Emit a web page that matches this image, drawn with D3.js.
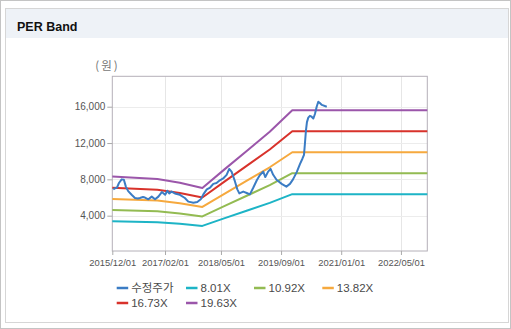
<!DOCTYPE html>
<html>
<head>
<meta charset="utf-8">
<script src="https://cdn.jsdelivr.net/npm/d3@7"></script>
<style>
html,body{margin:0;padding:0;background:#fff;}
svg{display:block;}
</style>
</head>
<body>
<svg id="chart" width="511" height="329"></svg>
<script>
// ---- data ----
const xTickLabels = ["2015/12/01","2017/02/01","2018/05/01","2019/09/01","2021/01/01","2022/05/01"];
const yTickValues = [4000, 8000, 12000, 16000];
const xDomain = ["2015/12/01","2022/12/01"];

const seriesNames = ["수정주가","8.01X","10.92X","13.82X","16.73X","19.63X"];
const seriesColors = ["#3b7cc4","#1db4c6","#93bb52","#f6a93e","#d8322b","#9b56aa"];

const bandDates = ["2015/12/01","2016/12/01","2017/06/01","2017/12/01","2018/06/01","2018/12/01","2019/06/01","2019/12/01","2022/12/01"];
const band801  = [3388, 3284, 3116, 2876, 3725, 4566, 5407, 6368, 6368];
const band1092 = [4619, 4477, 4248, 3920, 5078, 6224, 7371, 8681, 8681];
const band1382 = [5846, 5666, 5376, 4961, 6426, 7877, 9329, 10987, 10987];
const band1673 = [7077, 6859, 6508, 6006, 7779, 9536, 11293, 13300, 13300];
const band1963 = [8303, 8048, 7636, 7047, 9128, 11189, 13250, 15606, 15606];

const priceDates = [
 "2015/12/09","2015/12/22","2016/01/08","2016/01/24","2016/02/15","2016/03/04","2016/03/20","2016/04/08",
 "2016/05/06","2016/06/02","2016/06/26","2016/07/12","2016/08/06","2016/08/22","2016/09/19","2016/10/16",
 "2016/11/12","2016/12/09","2017/01/06","2017/02/02","2017/02/20","2017/03/07","2017/03/26","2017/04/22",
 "2017/06/02","2017/07/12","2017/08/09","2017/09/19","2017/10/21","2017/11/18","2017/12/09","2018/01/06",
 "2018/02/02","2018/02/28","2018/03/26","2018/04/22","2018/05/19","2018/06/16","2018/07/07","2018/07/26",
 "2018/08/22","2018/09/11","2018/09/27","2018/10/29","2018/11/26","2018/12/22","2019/01/19","2019/02/16",
 "2019/03/12","2019/04/09","2019/04/26","2019/05/19","2019/06/08","2019/06/29","2019/07/26","2019/09/06",
 "2019/10/14","2019/11/12","2019/12/07","2020/01/06","2020/02/02","2020/02/22","2020/03/05","2020/03/13",
 "2020/03/21","2020/03/29","2020/04/09","2020/04/22","2020/05/06","2020/05/20","2020/06/02","2020/06/16",
 "2020/06/29","2020/07/12","2020/07/28","2020/09/06"
];
const priceValues = [
 6900, 7000, 7100, 7600, 8000, 7950, 7200, 6700,
 6300, 5950, 5900, 5950, 6050, 6000, 5800, 6100,
 5800, 6100, 6600, 6300, 6750, 6450, 6650, 6450,
 6300, 5950, 5550, 5430, 5500, 5800, 6350, 6900,
 7100, 7500, 7600, 7900, 8100, 8500, 9150, 8850,
 7800, 6900, 6450, 6650, 6500, 6350, 7100, 7900,
 8450, 8850, 8250, 8850, 9150, 8500, 7950, 7500,
 7200, 7500, 8000, 8800, 9700, 10300, 10700, 12000,
 13400, 14300, 14800, 15000, 14900, 14700, 15200, 16000,
 16550, 16400, 16200, 16000
];

// ---- drawing ----
const parse = d3.timeParse("%Y/%m/%d");
const svg = d3.select("#chart");

// frames
svg.append("rect").attr("x",0.5).attr("y",0.5).attr("width",510).attr("height",328)
  .attr("fill","#fff").attr("stroke","#c4c4c4");
svg.append("rect").attr("x",5.5).attr("y",8.5).attr("width",503).attr("height",314)
  .attr("fill","#fff").attr("stroke","#d6d6d6");
svg.append("rect").attr("x",6).attr("y",9).attr("width",502).attr("height",29)
  .attr("fill","#eef2f7");
svg.append("text").attr("x",17).attr("y",30.5).text("PER Band")
  .attr("font-family","Liberation Sans, Arial, sans-serif").attr("font-weight","bold")
  .attr("font-size","12.5px").attr("fill","#111");

const L = 112.3, R = 427.3, T = 76.3, B = 251;
const x = d3.scaleTime().domain(xDomain.map(parse)).range([L, R]);
const y = d3.scaleLinear().domain([0, 19350]).range([252, T]);

const axisFont = "Liberation Sans, Arial, sans-serif";

// gridlines
const g = svg.append("g");
g.selectAll(".vg").data(xTickLabels.slice(1)).enter().append("line")
  .attr("x1", d => Math.round(x(parse(d))) + 0.5).attr("x2", d => Math.round(x(parse(d))) + 0.5)
  .attr("y1", T).attr("y2", B).attr("stroke","#e6e6e6");
g.selectAll(".hg").data(yTickValues).enter().append("line")
  .attr("x1", L).attr("x2", R)
  .attr("y1", d => Math.round(y(d)) + 0.5).attr("y2", d => Math.round(y(d)) + 0.5)
  .attr("stroke","#ececec");

// plot frame
svg.append("rect").attr("x", L).attr("y", T).attr("width", R - L).attr("height", B - T)
  .attr("fill","none").attr("stroke","#b4b0b8").attr("stroke-width",1);

// axes
const xAxis = d3.axisBottom(x).tickValues(xTickLabels.map(parse))
  .tickFormat(d3.timeFormat("%Y/%m/%d")).tickSize(4).tickSizeOuter(0);
const xa = svg.append("g").attr("transform",`translate(0,${B})`).call(xAxis);
xa.select(".domain").remove();
xa.selectAll("line").attr("stroke","#aaa");
xa.selectAll("text").attr("font-family",axisFont).attr("font-size","9.4px").attr("fill","#555").attr("dy","0.9em");

const yAxis = d3.axisLeft(y).tickValues(yTickValues).tickFormat(d3.format(",")).tickSize(5).tickSizeOuter(0);
const ya = svg.append("g").attr("transform",`translate(${L},0)`).call(yAxis);
ya.select(".domain").remove();
ya.selectAll("line").attr("stroke","#aaa");
ya.selectAll("text").attr("font-family",axisFont).attr("font-size","10px").attr("fill","#555").attr("x",-7);

svg.append("text").attr("x",107.5).attr("y",70).attr("text-anchor","middle").text("(원)")
  .attr("font-family","Noto Sans CJK KR, sans-serif").attr("font-size","11.5px")
  .attr("letter-spacing","2px").attr("fill","#777");

// lines
const line = d3.line().x(d => x(d[0])).y(d => y(d[1]));
const bands = [band801, band1092, band1382, band1673, band1963];
bands.forEach((vals, i) => {
  const pts = bandDates.map((d, j) => [parse(d), vals[j]]);
  svg.append("path").datum(pts).attr("d", line).attr("fill","none")
    .attr("stroke", seriesColors[i + 1]).attr("stroke-width", 2).attr("stroke-linejoin","round");
});
const pricePts = priceDates.map((d, j) => [parse(d), priceValues[j]]);
svg.append("path").datum(pricePts).attr("d", line).attr("fill","none")
  .attr("stroke", seriesColors[0]).attr("stroke-width", 2).attr("stroke-linejoin","round");

// legend
const legendPos = [[116.7,288],[186,288],[254,288],[322.3,288],[116.7,303],[186,303]];
const lg = svg.append("g");
seriesNames.forEach((name, i) => {
  const [lx, ly] = legendPos[i];
  lg.append("line").attr("x1", lx).attr("x2", lx + 11.5).attr("y1", ly).attr("y2", ly)
    .attr("stroke", seriesColors[i]).attr("stroke-width", 2.5);
  lg.append("text").attr("x", lx + 14.5).attr("y", ly).attr("dy","0.36em").text(name)
    .attr("font-family", i === 0 ? "Noto Sans CJK KR, sans-serif" : axisFont)
    .attr("font-size", "11.5px").attr("fill","#4a4a4a");
});
</script>
</body>
</html>
